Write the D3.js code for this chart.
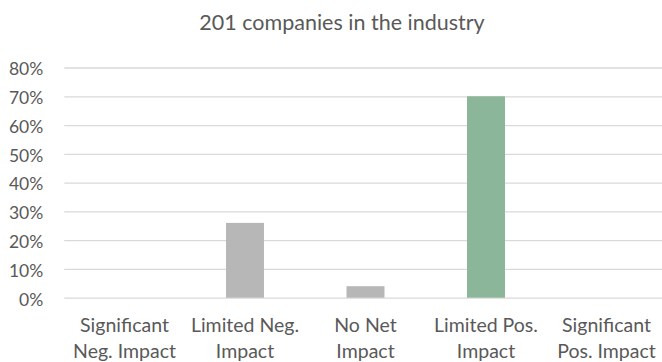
<!DOCTYPE html>
<html>
<head>
<meta charset="utf-8">
<script src="https://cdn.jsdelivr.net/npm/d3@7"></script>
<style>
  html, body { margin: 0; padding: 0; background: #fff; }
  svg { display: block; font-family: Lato, "Open Sans", sans-serif; }
</style>
</head>
<body>
<svg id="chart" width="662" height="362"></svg>
<script>
// Share of companies by expected impact
const categories = [
  ["Significant", "Neg. Impact"],
  ["Limited Neg.", "Impact"],
  ["No Net", "Impact"],
  ["Limited Pos.", "Impact"],
  ["Significant", "Pos. Impact"]
];
const shares = [0, 0.26, 0.04, 0.70, 0];
const barColors = ["#b7b7b7", "#b7b7b7", "#b7b7b7", "#8cb69a", "#8cb69a"];
const yTicks = [0, 0.1, 0.2, 0.3, 0.4, 0.5, 0.6, 0.7, 0.8];
const title = "201 companies in the industry";

const svg = d3.select("#chart");
const keys = categories.map((c, i) => i);
const plotLeft = 64.25, plotRight = 666.75;

const x = d3.scaleBand()
  .domain(keys)
  .range([plotLeft, plotRight])
  .paddingInner(0.685)
  .paddingOuter(0.3425);

const y = d3.scaleLinear()
  .domain([0, 0.8])
  .range([297.7, 67.5]);

// title, centred on the full chart frame (which runs past the right edge)
svg.append("text")
  .attr("x", 342)
  .attr("y", 30)
  .attr("text-anchor", "middle")
  .attr("fill", "#595959")
  .attr("font-size", 21.5)
  .text(title);

// horizontal gridlines and percent labels
const yAxis = d3.axisLeft(y)
  .tickValues(yTicks)
  .tickSize(-(plotRight - plotLeft))
  .tickPadding(21)
  .tickFormat(d3.format(".0%"));

const gy = svg.append("g")
  .attr("transform", `translate(${plotLeft},0)`)
  .call(yAxis);
gy.select(".domain").remove();
gy.selectAll(".tick line").attr("stroke", "#d9d9d9").attr("stroke-width", 1.3);
gy.selectAll(".tick text")
  .attr("fill", "#595959")
  .attr("font-size", 17.5)
  .attr("dy", 7.3)
  .attr("font-family", "Lato, 'Open Sans', sans-serif");

// bars
svg.append("g")
  .selectAll("rect")
  .data(shares)
  .join("rect")
  .attr("x", (d, i) => x(i))
  .attr("width", x.bandwidth())
  .attr("y", d => y(d))
  .attr("height", d => y(0) - y(d))
  .attr("fill", (d, i) => barColors[i]);

// two-line category labels
const gx = svg.append("g");
categories.forEach((lines, i) => {
  const cx = x(i) + x.bandwidth() / 2;
  const t = gx.append("text")
    .attr("x", cx)
    .attr("y", 331.7)
    .attr("text-anchor", "middle")
    .attr("fill", "#595959")
    .attr("font-size", 19.5);
  lines.forEach((line, j) => {
    t.append("tspan")
      .attr("x", cx)
      .attr("dy", j === 0 ? 0 : 26.6)
      .text(line);
  });
});
</script>
</body>
</html>
